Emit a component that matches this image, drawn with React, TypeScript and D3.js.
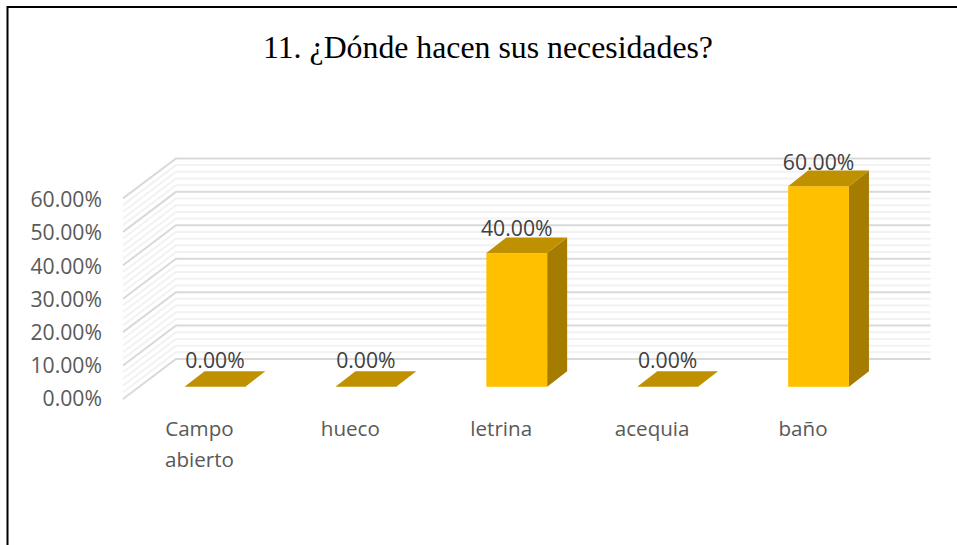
import React from "react";
import * as d3 from "d3";

const categories = ["Campo abierto", "hueco", "letrina", "acequia", "baño"];
const categoryLines = [["Campo", "abierto"], ["hueco"], ["letrina"], ["acequia"], ["baño"]];
const values = [0, 0, 40, 0, 60];
const yTicks = [0, 10, 20, 30, 40, 50, 60];
const minorTicks = d3.range(0, 60.001, 2);
const title = "11. ¿Dónde hacen sus necesidades?";

const WIDTH = 957;
const HEIGHT = 545;

// Oblique projection: the floor runs up and right from the front edge to the back wall.
const floorLeft = 123;
const floorRight = 877.5;
const floorFront = 399;
const wallDx = 53;
const wallDy = -40;
const barDx = 20;
const barDy = -15.6;

const y = d3.scaleLinear().domain([0, 60]).range([floorFront, floorFront - 200.6]);
const tickBaseline = d3.scaleLinear().domain([0, 60]).range([406, 207.3]);
const labelGap = d3.scaleLinear().domain([0, 60]).range([18.5, 16]);
const x = d3.scaleBand<string>().domain(categories).range([floorLeft, floorRight]).paddingInner(0.597).paddingOuter(0.2985);
const offsetX = (wallDx - barDx) / 2;
const offsetY = (wallDy - barDy) / 2;

const fmt = (v: number) => v.toFixed(2) + "%";
const sans = "'Open Sans', 'Noto Sans', sans-serif";
const numberSize = 21.2;
const categorySize = 20.6;

function poly(points: [number, number][]) {
  return d3.line()(points) + "Z";
}

function GridLine({ v, color, w }: { v: number; color: string; w: number }) {
  const path = d3.line()([
    [floorLeft, y(v)],
    [floorLeft + wallDx, y(v) + wallDy],
    [floorRight + wallDx, y(v) + wallDy],
  ]);
  return <path d={path!} fill="none" stroke={color} strokeWidth={w} />;
}

export default function App() {
  return (
    <svg width={WIDTH} height={HEIGHT} style={{ position: "absolute", left: 0, top: 0 }}>
      <rect width={WIDTH} height={HEIGHT} fill="#fff" />
      <path d={`M7.5 ${HEIGHT}V7H${WIDTH}`} fill="none" stroke="#000" strokeWidth={2} />
      <text x={488} y={57.5} textAnchor="middle" fontFamily="'Liberation Serif', serif" fontSize={31.8} fill="#000">
        {title}
      </text>

      {minorTicks.filter((t) => t % 10 !== 0).map((t) => (
        <GridLine key={t} v={t} color="#f2f2f2" w={2} />
      ))}
      {yTicks.map((t) => (
        <GridLine key={t} v={t} color="#d9d9d9" w={2} />
      ))}

      {yTicks.map((t) => (
        <text key={t} x={102} y={tickBaseline(t)} textAnchor="end" fontFamily={sans} fontSize={numberSize} fill="#595959">
          {fmt(t)}
        </text>
      ))}

      {categories.map((c, i) => {
        const x0 = x(c)! + offsetX;
        const x1 = x0 + x.bandwidth();
        const yb = y(0) + offsetY;
        const yt = y(values[i]) + offsetY;
        return (
          <g key={c}>
            {values[i] > 0 && (
              <>
                <path d={poly([[x1, yt], [x1 + barDx, yt + barDy], [x1 + barDx, yb + barDy], [x1, yb]])} fill="#a67c00" />
                <rect x={x0} y={yt} width={x.bandwidth()} height={yb - yt} fill="#ffc000" />
              </>
            )}
            <path d={poly([[x0, yt], [x1, yt], [x1 + barDx, yt + barDy], [x0 + barDx, yt + barDy]])} fill="#bf9000" />
            <text x={(x0 + x1) / 2} y={yt - labelGap(values[i])} textAnchor="middle" fontFamily={sans} fontSize={numberSize} fill="#404040">
              {fmt(values[i])}
            </text>
          </g>
        );
      })}

      {categories.map((c, i) => (
        <text key={c} fontFamily={sans} fontSize={categorySize} fill="#595959">
          {categoryLines[i].map((line, k) => (
            <tspan key={k} x={x(c)! + x.bandwidth() / 2 + 1} y={436 + k * 30.5} textAnchor="middle">
              {line}
            </tspan>
          ))}
        </text>
      ))}
    </svg>
  );
}
